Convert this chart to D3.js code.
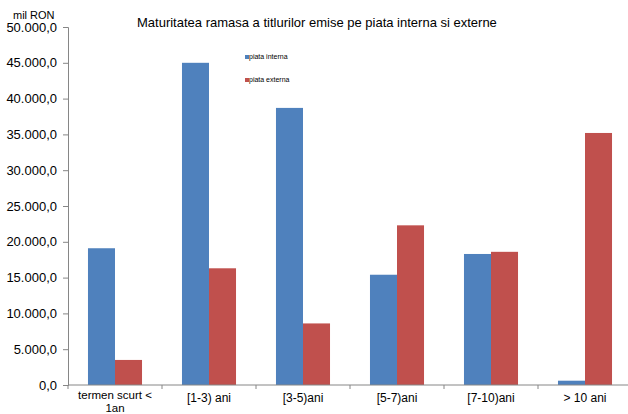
<!DOCTYPE html>
<html>
<head>
<meta charset="utf-8">
<script src="https://cdn.jsdelivr.net/npm/d3@7"></script>
<style>
  html, body { margin: 0; padding: 0; background: #fff; }
  svg { display: block; font-family: "Liberation Sans", Arial, sans-serif; }
</style>
</head>
<body>
<svg id="chart" width="628" height="414"></svg>
<script>
const categories = ["termen scurt < 1an", "[1-3) ani", "[3-5)ani", "[5-7)ani", "[7-10)ani", "> 10 ani"];
const seriesNames = ["piata interna", "piata externa"];
const piataInterna = [19100, 45000, 38700, 15400, 18300, 600];
const piataExterna = [3500, 16300, 8600, 22300, 18600, 35200];
const yTicks = [0, 5000, 10000, 15000, 20000, 25000, 30000, 35000, 40000, 45000, 50000];
const colors = ["#4F81BD", "#C0504D"];

const svg = d3.select("#chart");
const margin = { left: 68, top: 27, right: -4, bottom: 29 };
const W = 628, H = 414;
const plotW = W - margin.left - margin.right;
const plotH = H - margin.top - margin.bottom;

const x = d3.scaleBand().domain(categories).range([margin.left, margin.left + plotW]).paddingInner(0.425).paddingOuter(0.2125);
const x1 = d3.scaleBand().domain(seriesNames).range([0, x.bandwidth()]);
const y = d3.scaleLinear().domain([0, 50000]).range([margin.top + plotH, margin.top]);

const fmt = v => {
  const s = d3.format(",.1f")(v);
  return s.replace(/,/g, "#").replace(".", ",").replace(/#/g, ".");
};

// bars
const data = [piataInterna, piataExterna];
const g = svg.append("g");
categories.forEach((c, i) => {
  seriesNames.forEach((s, j) => {
    g.append("rect")
      .attr("x", x(c) + x1(s))
      .attr("y", y(data[j][i]))
      .attr("width", x1.bandwidth())
      .attr("height", y(0) - y(data[j][i]))
      .attr("fill", colors[j]);
  });
});

// y axis
const yAxis = d3.axisLeft(y).tickValues(yTicks).tickFormat(fmt).tickSize(5).tickPadding(6);
const ya = svg.append("g").attr("transform", `translate(${margin.left},0)`).call(yAxis);
ya.select(".domain").attr("stroke", "#868686");
ya.selectAll(".tick line").attr("stroke", "#868686");
ya.selectAll(".tick text").attr("font-size", 13).attr("fill", "#000").attr("font-family", "Liberation Sans, Arial, sans-serif");

// x axis
const step = x.step();
const bounds = d3.range(categories.length + 1).map(i => margin.left + i * step);
svg.append("line").attr("x1", margin.left).attr("x2", W).attr("y1", y(0)).attr("y2", y(0)).attr("stroke", "#868686");
svg.selectAll(".xtick").data(bounds).enter().append("line")
  .attr("x1", d => d).attr("x2", d => d).attr("y1", y(0)).attr("y2", y(0) + 4).attr("stroke", "#868686");

const xl = svg.append("g");
categories.forEach(c => {
  const cx = x(c) + x.bandwidth() / 2;
  if (c === "termen scurt < 1an") {
    xl.append("text").attr("x", cx).attr("y", 398.5).attr("text-anchor", "middle").attr("font-size", 11.5).attr("fill", "#000").text("termen scurt <");
    xl.append("text").attr("x", cx).attr("y", 411.5).attr("text-anchor", "middle").attr("font-size", 11.5).attr("fill", "#000").text("1an");
  } else {
    xl.append("text").attr("x", cx).attr("y", 402).attr("text-anchor", "middle").attr("font-size", 12).attr("fill", "#000").text(c);
  }
});

// title & unit
svg.append("text").attr("x", 137).attr("y", 27).attr("font-size", 13).attr("fill", "#000").text("Maturitatea ramasa a titlurilor emise pe piata interna si externe");
svg.append("text").attr("x", 13).attr("y", 19).attr("font-size", 11).attr("fill", "#000").text("mil RON");

// legend
const leg = svg.append("g");
seriesNames.forEach((s, j) => {
  const ly = 57 + j * 23;
  leg.append("rect").attr("x", 245).attr("y", ly - 2).attr("width", 4).attr("height", 4).attr("fill", colors[j]);
  leg.append("text").attr("x", 249).attr("y", ly + 2).attr("font-size", 7).attr("fill", "#000").text(s);
});
</script>
</body>
</html>
